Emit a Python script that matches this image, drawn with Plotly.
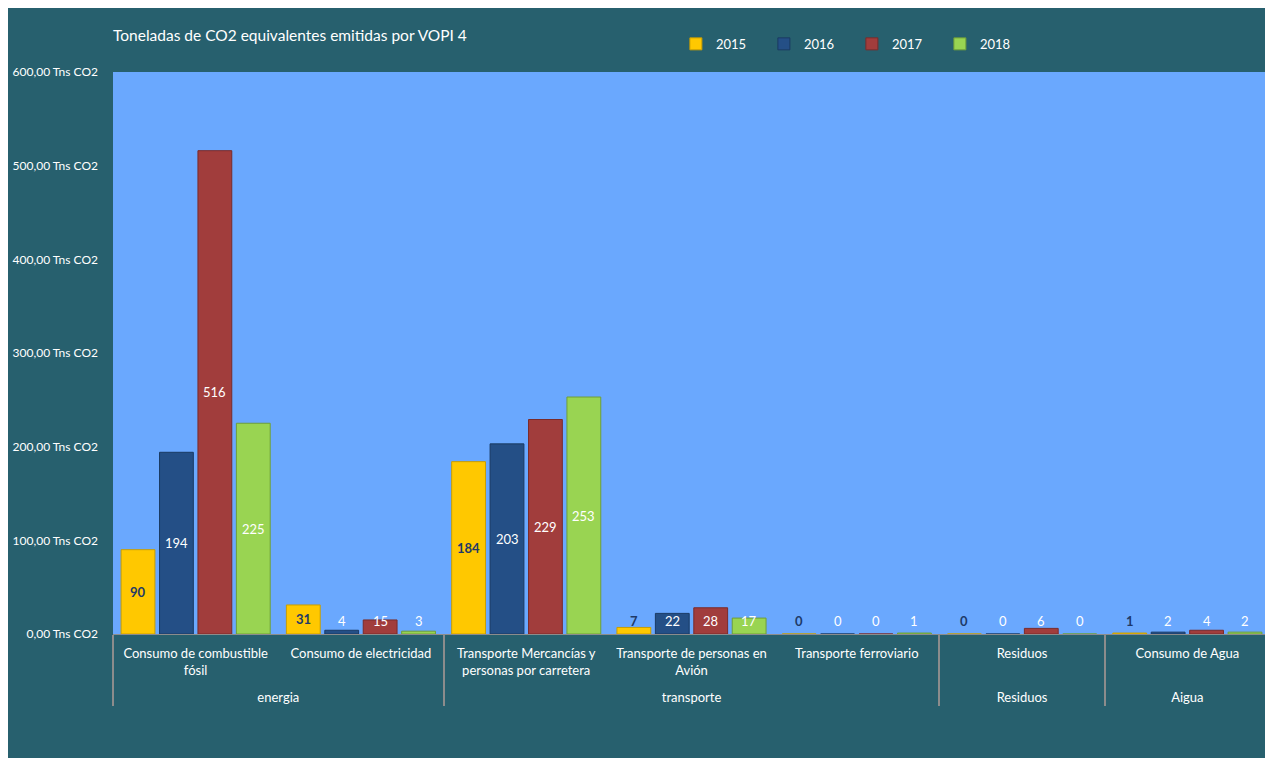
import plotly.graph_objects as go

# ---- data ----
groups = ["energia", "energia", "transporte", "transporte", "transporte", "Residuos", "Aigua"]
categories = [
    "Consumo de combustible<br>fósil<br>\u00a0",
    "Consumo de electricidad",
    "Transporte Mercancías y<br>personas por carretera<br>\u00a0",
    "Transporte de personas en<br>Avión<br>\u00a0",
    "Transporte ferroviario",
    "Residuos",
    "Consumo de Agua",
]
years = ["2015", "2016", "2017", "2018"]
v2015 = [90, 31, 184, 7, 0, 0, 1]
v2016 = [194, 4, 203, 22, 0, 0, 2]
v2017 = [516, 15, 229, 28, 0, 6, 4]
v2018 = [225, 3, 253, 17, 1, 0, 2]
series = [v2015, v2016, v2017, v2018]
y_ticks = [0, 100, 200, 300, 400, 500, 600]
y_ticktext = [f"{t:.2f}".replace(".", ",") + " Tns CO2" for t in y_ticks]

# ---- style ----
TEAL = "#27606E"
PLOT_BG = "#6AA8FE"
FONT = "Lato"
bar_colors = ["#FFC800", "#244F86", "#A13D3C", "#99D452"]
bar_lines = ["#C99E00", "#1A3A63", "#7A2B2A", "#6F9E38"]
label_colors = ["#1F3A68", "#FFFFFF", "#FFFFFF", "#FFFFFF"]
label_bold = [True, False, False, False]
BARGAP = 0.07
BARGROUPGAP = 0.12
LABEL_MIN = 14  # Excel keeps small-bar labels inside the plot area

W, H = 1265, 750

fig = go.Figure()
for j, (yr, vals) in enumerate(zip(years, series)):
    fig.add_trace(go.Bar(
        x=[groups, categories], y=vals, name=yr,
        marker=dict(color=bar_colors[j], line=dict(color=bar_lines[j], width=1)),
    ))

# data labels
slot = (1 - BARGAP) / len(years)
annotations = []
for j, vals in enumerate(series):
    off = (j - (len(years) - 1) / 2) * slot
    for i, v in enumerate(vals):
        txt = f"<b>{v}</b>" if label_bold[j] else str(v)
        annotations.append(dict(
            x=i + off, y=max(v / 2, LABEL_MIN), xref="x", yref="y",
            text=txt, showarrow=False,
            font=dict(family=FONT, size=13, color=label_colors[j]),
        ))

fig.update_layout(
    width=W, height=H,
    paper_bgcolor=TEAL, plot_bgcolor=PLOT_BG,
    margin=dict(l=105, r=3, t=64, b=124),
    barmode="group", bargap=BARGAP, bargroupgap=BARGROUPGAP,
    font=dict(family=FONT, color="white", size=12),
    title=dict(text="Toneladas de CO2 equivalentes emitidas por VOPI 4",
               x=105 / W, xref="container", xanchor="left",
               y=1 - 28 / H, yref="container", yanchor="middle",
               font=dict(family=FONT, size=15.5, color="white")),
    legend=dict(orientation="h", x=0.4865, xanchor="left", y=1.05, yanchor="middle",
                font=dict(family=FONT, size=13, color="white"),
                bgcolor="rgba(0,0,0,0)", entrywidth=43, itemwidth=30),
    annotations=annotations,
    showlegend=True,
)
fig.update_yaxes(range=[0, 600], tickvals=y_ticks, ticktext=y_ticktext,
                 showgrid=False, zeroline=False, showline=False, automargin=False,
                 tickfont=dict(family=FONT, size=12, color="white"), ticklabelstandoff=14)
fig.update_xaxes(showgrid=False, showline=True, linecolor="#8C8C8C", linewidth=1,
                 showdividers=True, dividercolor="#8C8C8C", dividerwidth=1.5,
                 ticklabelstandoff=7, automargin=False,
                 tickfont=dict(family=FONT, size=13, color="white"), ticks="")

fig.write_html("out.html")
